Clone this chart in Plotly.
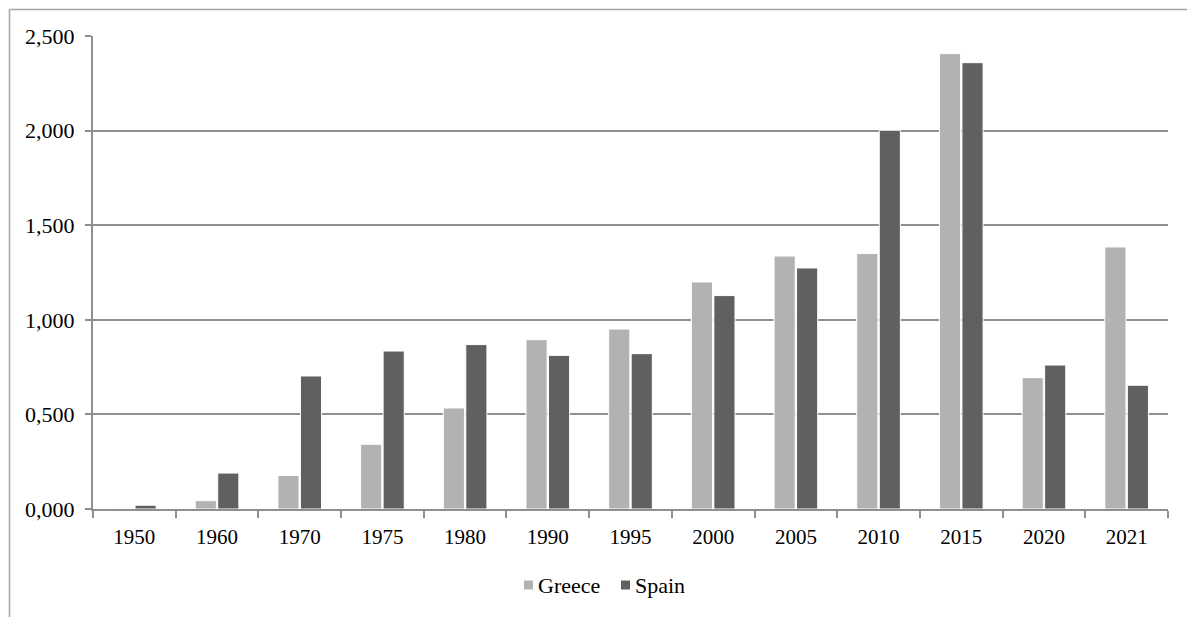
import plotly.graph_objects as go

# Years on the category axis
years = ["1950", "1960", "1970", "1975", "1980", "1990", "1995",
         "2000", "2005", "2010", "2015", "2020", "2021"]

# Series values
greece = [0.002, 0.044, 0.177, 0.342, 0.534, 0.895, 0.951,
          1.200, 1.337, 1.350, 2.407, 0.694, 1.385]
spain = [0.020, 0.190, 0.703, 0.835, 0.869, 0.812, 0.821,
         1.128, 1.274, 2.002, 2.359, 0.761, 0.654]

# Value axis ticks
y_ticks = [0, 0.5, 1.0, 1.5, 2.0, 2.5]

FONT = "Liberation Serif, Times New Roman, serif"
GRID = "#8f8f8f"
COLORS = {"Greece": "#b2b2b2", "Spain": "#606060"}

fig = go.Figure()
for name, vals in (("Greece", greece), ("Spain", spain)):
    fig.add_trace(go.Bar(
        name=name, x=years, y=vals,
        marker=dict(color=COLORS[name], line=dict(color="white", width=1)),
    ))

W, H = 1187, 617
L, R, T, B = 93, 19, 36, 108
pw, ph = W - L - R, H - T - B

def px_x(x):
    return (x - L) / pw

def px_y(y):
    return (H - B - y) / ph

# Outer chart frame (top and left edges)
frame = dict(color="#a6a6a6", width=1.5)
shapes = [
    dict(type="line", xref="paper", yref="paper",
         x0=px_x(9.5), x1=px_x(W), y0=px_y(9.5), y1=px_y(9.5), line=frame),
    dict(type="line", xref="paper", yref="paper",
         x0=px_x(9.5), x1=px_x(9.5), y0=px_y(9.5), y1=px_y(H), line=frame),
]

# Compact legend below the plot: small square key followed by its label
annotations = []
legend_y = 585
for name, key_x in (("Greece", 524), ("Spain", 621)):
    shapes.append(dict(
        type="rect", xref="paper", yref="paper",
        x0=px_x(key_x), x1=px_x(key_x + 9),
        y0=px_y(legend_y - 4.5), y1=px_y(legend_y + 4.5),
        fillcolor=COLORS[name], line=dict(width=0),
    ))
    annotations.append(dict(
        xref="paper", yref="paper", x=px_x(key_x + 12), y=px_y(legend_y),
        xanchor="left", yanchor="middle", text=name, showarrow=False,
        font=dict(family=FONT, size=22, color="black"),
    ))

fig.update_layout(
    width=W, height=H,
    margin=dict(l=L, r=R, t=T, b=B),
    paper_bgcolor="white", plot_bgcolor="white",
    font=dict(family=FONT, size=22, color="black"),
    barmode="group", bargap=0.456, bargroupgap=0.06,
    separators=",.",
    showlegend=False,
    shapes=shapes,
    annotations=annotations,
)

fig.update_xaxes(
    type="category", tickson="boundaries",
    showline=True, linecolor=GRID, linewidth=2,
    ticks="outside", ticklen=7, tickcolor=GRID, tickwidth=2,
    showgrid=False, ticklabelstandoff=8,
    tickfont=dict(family=FONT, size=21, color="black"),
)
fig.update_yaxes(
    range=[0, 2.5], tickvals=y_ticks, tickformat=".3f",
    showline=True, linecolor=GRID, linewidth=2,
    ticks="outside", ticklen=6, tickcolor=GRID, tickwidth=2,
    showgrid=True, gridcolor=GRID, gridwidth=2,
    zeroline=False, ticklabelstandoff=6,
    tickfont=dict(family=FONT, size=22, color="black"),
)

fig.write_html("out.html")
